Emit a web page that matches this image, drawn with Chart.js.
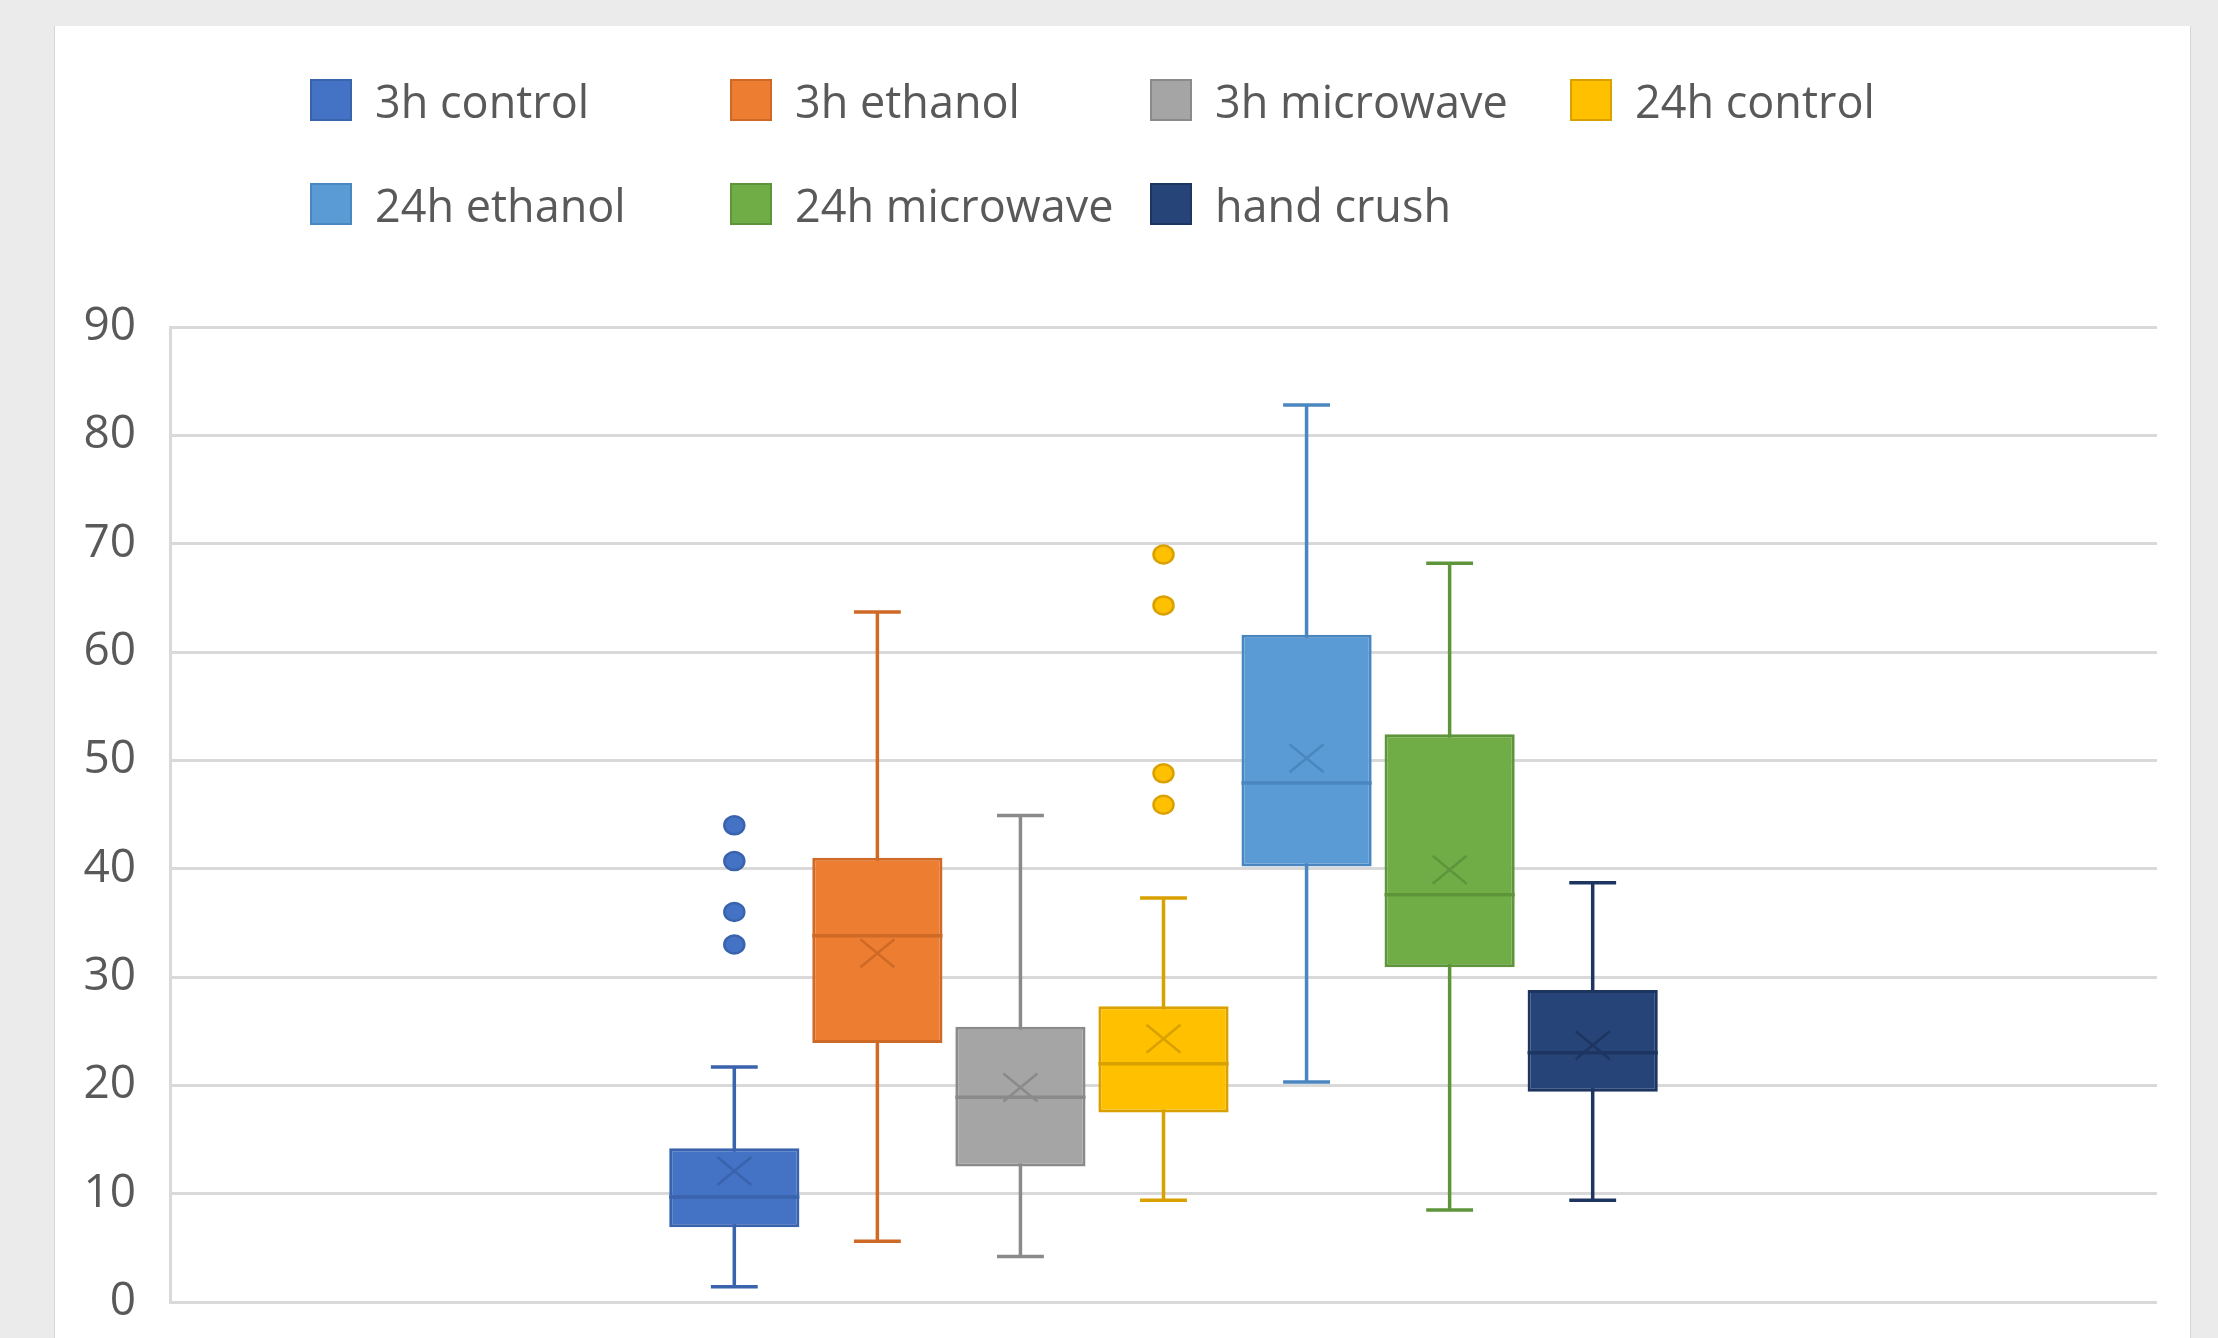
<!DOCTYPE html>
<html>
<head>
<meta charset="utf-8">
<script src="https://cdn.jsdelivr.net/npm/chart.js@4/dist/chart.umd.min.js"></script>
<style>
    html, body { margin: 0; padding: 0; background: #ebebeb; overflow: hidden; }
    body { width: 2218px; height: 1338px; position: relative; font-family: 'Open Sans', sans-serif; }
    #frame { position: absolute; left: 54px; top: 26px; width: 2137px; height: 1320px; background: #fff; border-left: 1px solid #d6d6d6; border-right: 1px solid #d6d6d6; box-sizing: border-box; }
    #boxChart { position: absolute; left: 0; top: 0; }
    #legend { position: absolute; left: 310px; top: 75px; display: grid; grid-template-columns: repeat(4, 420px); row-gap: 54px; }
    .legend-item { display: flex; align-items: center; height: 50px; color: #595959; font-size: 45px; white-space: nowrap; }
    .legend-box { width: 42px; height: 42px; box-sizing: border-box; border: 2px solid; margin-right: 23px; flex: none; }
</style>
</head>
<body>
<div id="frame"></div>
<canvas id="boxChart" width="2218" height="1338"></canvas>
<div id="legend"></div>
<script>
const labels = [''];
const seriesNames = ['3h control', '3h ethanol', '3h microwave', '24h control', '24h ethanol', '24h microwave', 'hand crush'];

// box plot statistics
const whiskerLow  = [1.4, 5.6, 4.2, 9.4, 20.3, 8.5, 9.4];
const quartile1   = [6.9, 23.9, 12.5, 17.5, 40.2, 30.9, 19.4];
const medians     = [9.7, 33.8, 18.9, 22.0, 47.9, 37.6, 23.0];
const means       = [12.1, 32.2, 19.8, 24.3, 50.2, 39.9, 23.7];
const quartile3   = [14.2, 41.0, 25.4, 27.3, 61.6, 52.4, 28.8];
const whiskerHigh = [21.7, 63.7, 44.9, 37.3, 82.8, 68.2, 38.7];
const outliers    = [[33.0, 36.0, 40.7, 44.0], [], [], [45.9, 48.8, 64.3, 69.0], [], [], []];

const yTicks = [0, 10, 20, 30, 40, 50, 60, 70, 80, 90];

const fillColors = ['#4472c4', '#ed7d31', '#a5a5a5', '#ffc000', '#5b9bd5', '#70ad47', '#264478'];
const lineColors = ['#3a63ad', '#cf6a26', '#8a8a8a', '#d9a100', '#4a86bf', '#5e953a', '#1d3560'];

// whiskers and caps go behind the boxes
const whiskerPlugin = {
    id: 'whiskers',
    beforeDatasetsDraw(chart) {
        const ctx = chart.ctx;
        const y = chart.scales.y;
        ctx.save();
        chart.data.datasets.forEach((ds, i) => {
            const bar = chart.getDatasetMeta(i).data[0];
            if (!bar) return;
            const x = bar.x;
            const cap = bar.width * 0.18;
            const top = y.getPixelForValue(whiskerHigh[i]);
            const bottom = y.getPixelForValue(whiskerLow[i]);
            ctx.strokeStyle = lineColors[i];
            ctx.lineWidth = 3.5;
            ctx.beginPath();
            ctx.moveTo(x, top);
            ctx.lineTo(x, bottom);
            ctx.moveTo(x - cap, top);
            ctx.lineTo(x + cap, top);
            ctx.moveTo(x - cap, bottom);
            ctx.lineTo(x + cap, bottom);
            ctx.stroke();
        });
        ctx.restore();
    },
    afterDatasetsDraw(chart) {
        const ctx = chart.ctx;
        const y = chart.scales.y;
        ctx.save();
        chart.data.datasets.forEach((ds, i) => {
            const bar = chart.getDatasetMeta(i).data[0];
            if (!bar) return;
            const x = bar.x;
            const half = bar.width / 2;

            // median
            const my = y.getPixelForValue(medians[i]);
            ctx.strokeStyle = lineColors[i];
            ctx.lineWidth = 3.5;
            ctx.beginPath();
            ctx.moveTo(x - half, my);
            ctx.lineTo(x + half, my);
            ctx.stroke();

            // mean marker (X)
            const ay = y.getPixelForValue(means[i]);
            ctx.lineWidth = 2.5;
            ctx.beginPath();
            ctx.moveTo(x - 17, ay - 14);
            ctx.lineTo(x + 17, ay + 14);
            ctx.moveTo(x + 17, ay - 14);
            ctx.lineTo(x - 17, ay + 14);
            ctx.stroke();

            // outliers
            outliers[i].forEach(v => {
                const oy = y.getPixelForValue(v);
                ctx.beginPath();
                ctx.ellipse(x, oy, 10, 9, 0, 0, Math.PI * 2);
                ctx.fillStyle = fillColors[i];
                ctx.fill();
                ctx.lineWidth = 2.5;
                ctx.strokeStyle = lineColors[i];
                ctx.stroke();
            });
        });
        ctx.restore();
    }
};

function buildDatasets() {
    return seriesNames.map((name, i) => ({
        label: name,
        data: [[quartile1[i], quartile3[i]]],
        backgroundColor: fillColors[i],
        borderColor: lineColors[i],
        borderWidth: 3,
        borderSkipped: false,
        categoryPercentage: 0.504,
        barPercentage: 0.91
    }));
}

function buildLegend(chart) {
    const legend = document.getElementById('legend');
    legend.innerHTML = '';
    chart.data.datasets.forEach(ds => {
        const item = document.createElement('div');
        item.className = 'legend-item';
        const box = document.createElement('span');
        box.className = 'legend-box';
        box.style.background = ds.backgroundColor;
        box.style.borderColor = ds.borderColor;
        const text = document.createElement('span');
        text.textContent = ds.label;
        item.appendChild(box);
        item.appendChild(text);
        legend.appendChild(item);
    });
}

Chart.defaults.font.family = "'Open Sans', sans-serif";

const ctx = document.getElementById('boxChart').getContext('2d');
const boxChart = new Chart(ctx, {
    type: 'bar',
    data: {
        labels: labels,
        datasets: buildDatasets()
    },
    options: {
        responsive: false,
        animation: false,
        devicePixelRatio: 1,
        layout: {
            padding: { left: 0, right: 61, top: 327, bottom: 36 }
        },
        scales: {
            x: {
                display: false
            },
            y: {
                min: 0,
                max: 90,
                afterFit: function(scale) {
                    scale.width = 170;
                    // tick padding would otherwise push the plot bottom up
                    scale.paddingTop = 0;
                    scale.paddingBottom = 0;
                },
                afterBuildTicks: function(scale) { scale.ticks = yTicks.map(v => ({ value: v })); },
                ticks: {
                    color: '#595959',
                    padding: 34,
                    font: { size: 46 }
                },
                grid: {
                    color: '#d9d9d9',
                    lineWidth: 3,
                    drawTicks: false
                },
                border: {
                    display: true,
                    color: '#d9d9d9',
                    width: 3
                }
            }
        },
        plugins: {
            legend: { display: false },
            tooltip: { enabled: false }
        }
    },
    plugins: [whiskerPlugin]
});

buildLegend(boxChart);
</script>
</body>
</html>
